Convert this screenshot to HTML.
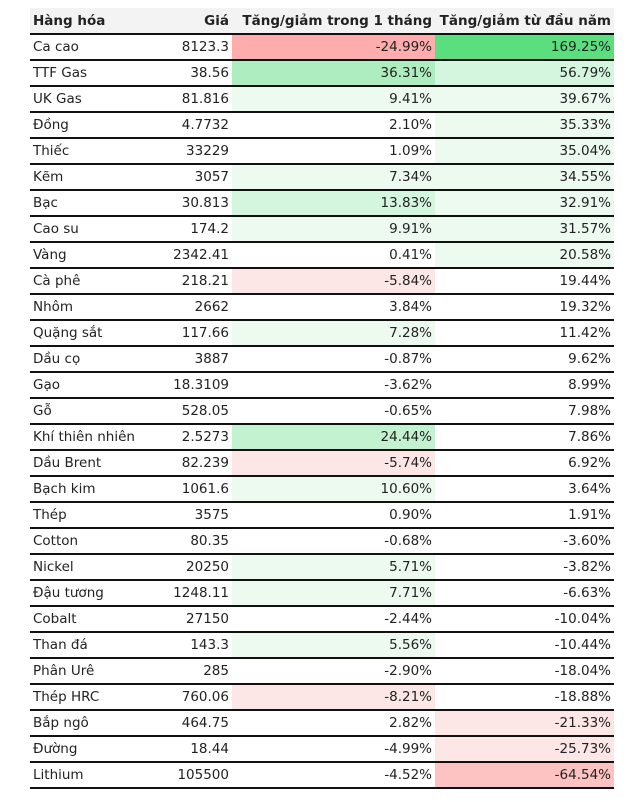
<!DOCTYPE html>
<html><head><meta charset="utf-8"><style>
body{margin:0;background:#fff;width:634px;height:802px;overflow:hidden;font-family:"DejaVu Sans","Liberation Sans",sans-serif;}
table{position:absolute;left:30px;top:8px;border-collapse:collapse;width:584px;table-layout:fixed;font-size:13.5px;color:#222;}
td,th{padding:0 3px;height:24px;border-bottom:2px solid #111;white-space:nowrap;overflow:hidden;}
th{background:#f3f3f3;font-weight:bold;height:25px;text-align:right;}
th:first-child,td:first-child{text-align:left;}
td{text-align:right;}
.R{background:#fdadad}.r{background:#fde6e6}.rm{background:#fdc3c3}
.G{background:#5ade7e}.g2{background:#aeedc0}.g3{background:#c3f2d1}.g4{background:#d4f6de}.g{background:#ecfaf0}
</style></head><body>
<table>
<colgroup><col style="width:135px"><col style="width:67px"><col style="width:203px"><col style="width:179px"></colgroup>
<tr><th>Hàng hóa</th><th>Giá</th><th>Tăng/giảm trong 1 tháng</th><th>Tăng/giảm từ đầu năm</th></tr>
<tr><td>Ca cao</td><td>8123.3</td><td class="R">-24.99%</td><td class="G">169.25%</td></tr>
<tr><td>TTF Gas</td><td>38.56</td><td class="g2">36.31%</td><td class="g4">56.79%</td></tr>
<tr><td>UK Gas</td><td>81.816</td><td class="g">9.41%</td><td class="g">39.67%</td></tr>
<tr><td>Đồng</td><td>4.7732</td><td>2.10%</td><td class="g">35.33%</td></tr>
<tr><td>Thiếc</td><td>33229</td><td>1.09%</td><td class="g">35.04%</td></tr>
<tr><td>Kẽm</td><td>3057</td><td class="g">7.34%</td><td class="g">34.55%</td></tr>
<tr><td>Bạc</td><td>30.813</td><td class="g4">13.83%</td><td class="g">32.91%</td></tr>
<tr><td>Cao su</td><td>174.2</td><td class="g">9.91%</td><td class="g">31.57%</td></tr>
<tr><td>Vàng</td><td>2342.41</td><td>0.41%</td><td class="g">20.58%</td></tr>
<tr><td>Cà phê</td><td>218.21</td><td class="r">-5.84%</td><td>19.44%</td></tr>
<tr><td>Nhôm</td><td>2662</td><td>3.84%</td><td>19.32%</td></tr>
<tr><td>Quặng sắt</td><td>117.66</td><td class="g">7.28%</td><td>11.42%</td></tr>
<tr><td>Dầu cọ</td><td>3887</td><td>-0.87%</td><td>9.62%</td></tr>
<tr><td>Gạo</td><td>18.3109</td><td>-3.62%</td><td>8.99%</td></tr>
<tr><td>Gỗ</td><td>528.05</td><td>-0.65%</td><td>7.98%</td></tr>
<tr><td>Khí thiên nhiên</td><td>2.5273</td><td class="g3">24.44%</td><td>7.86%</td></tr>
<tr><td>Dầu Brent</td><td>82.239</td><td class="r">-5.74%</td><td>6.92%</td></tr>
<tr><td>Bạch kim</td><td>1061.6</td><td class="g">10.60%</td><td>3.64%</td></tr>
<tr><td>Thép</td><td>3575</td><td>0.90%</td><td>1.91%</td></tr>
<tr><td>Cotton</td><td>80.35</td><td>-0.68%</td><td>-3.60%</td></tr>
<tr><td>Nickel</td><td>20250</td><td class="g">5.71%</td><td>-3.82%</td></tr>
<tr><td>Đậu tương</td><td>1248.11</td><td class="g">7.71%</td><td>-6.63%</td></tr>
<tr><td>Cobalt</td><td>27150</td><td>-2.44%</td><td>-10.04%</td></tr>
<tr><td>Than đá</td><td>143.3</td><td class="g">5.56%</td><td>-10.44%</td></tr>
<tr><td>Phân Urê</td><td>285</td><td>-2.90%</td><td>-18.04%</td></tr>
<tr><td>Thép HRC</td><td>760.06</td><td class="r">-8.21%</td><td>-18.88%</td></tr>
<tr><td>Bắp ngô</td><td>464.75</td><td>2.82%</td><td class="r">-21.33%</td></tr>
<tr><td>Đường</td><td>18.44</td><td>-4.99%</td><td class="r">-25.73%</td></tr>
<tr><td>Lithium</td><td>105500</td><td>-4.52%</td><td class="rm">-64.54%</td></tr>
</table>
</body></html>
